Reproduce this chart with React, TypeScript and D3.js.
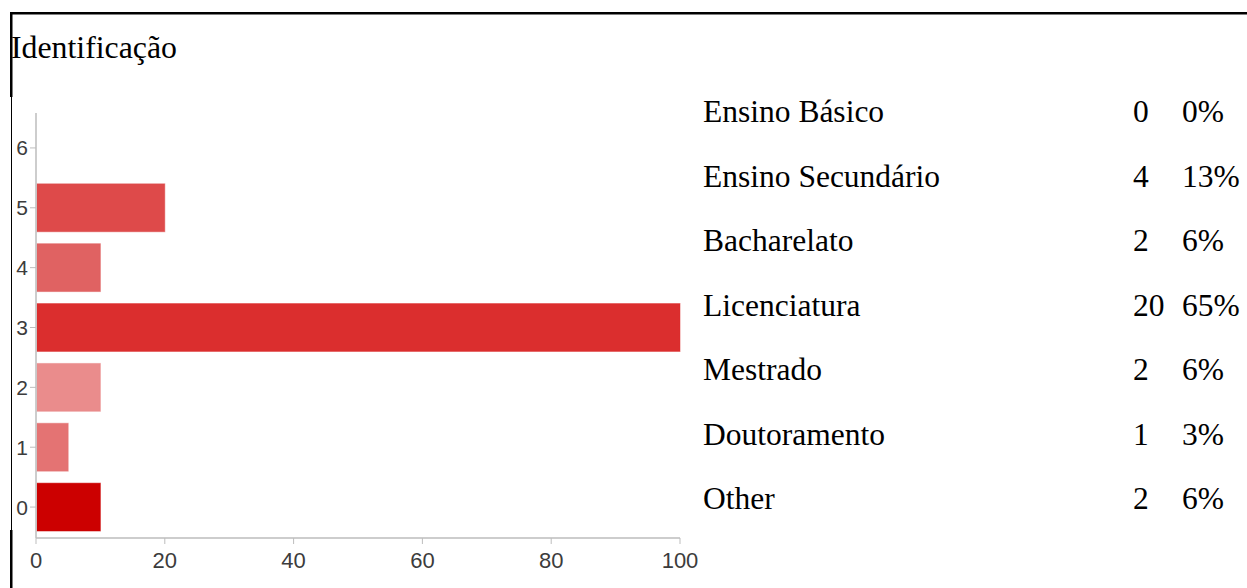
import React from "react";
import * as d3 from "d3";

// Response summary for the "Identificação" question
const categories = [
  "Ensino Básico",
  "Ensino Secundário",
  "Bacharelato",
  "Licenciatura",
  "Mestrado",
  "Doutoramento",
  "Other",
];
const counts = [0, 4, 2, 20, 2, 1, 2];
const barColors = ["#cc0000", "#de4a4a", "#e06262", "#db2e2e", "#ea8c8c", "#e47373", "#cc0000"];
const yTickLabels = ["0", "1", "2", "3", "4", "5", "6"];
const xTickValues = [0, 20, 40, 60, 80, 100];

const W = 1247;
const H = 588;
const SERIF = "'Liberation Serif', 'Times New Roman', Times, serif";
const SANS = "'Liberation Sans', Arial, Helvetica, sans-serif";

export default function App() {
  React.useEffect(() => {
    document.body.style.margin = "0";
  }, []);

  const total = d3.sum(counts);
  const maxCount = d3.max(counts) ?? 1;

  const x = d3.scaleLinear().domain([0, 100]).range([36, 680]);
  const y = d3
    .scaleBand<string>()
    .domain(yTickLabels)
    .range([537, 118])
    .paddingInner(0.2)
    .paddingOuter(0.1);

  // bottom row of the legend is category "0" on the chart
  const bars = categories.map((name, i) => ({
    name,
    key: String(categories.length - 1 - i),
    value: (counts[i] / maxCount) * 100,
    color: barColors[i],
  }));

  const axisColor = "#bdbdbd";
  const rowY = d3.scaleLinear().domain([0, categories.length - 1]).range([122, 509]);

  return (
    <svg
      width={W}
      height={H}
      style={{ position: "absolute", left: 0, top: 0, background: "#fff" }}
    >
      {/* frame */}
      <rect x={10} y={12} width={W - 10} height={2.5} fill="#000" />
      <rect x={10} y={12} width={2.5} height={85} fill="#000" />
      <rect x={11} y={97} width={1} height={433} fill="#000" />
      <rect x={10} y={530} width={2.5} height={H - 530} fill="#000" />

      <text x={11} y={58} fontFamily={SERIF} fontSize={31.8} fill="#000">
        Identificação
      </text>

      {/* bars */}
      {bars.map((b) => (
        <rect
          key={b.name}
          x={x(0) + 1}
          y={y(b.key)!}
          width={Math.max(0, x(b.value) - x(0) - 1)}
          height={y.bandwidth()}
          fill={b.color}
          stroke={b.value > 0 ? b.color : "none"}
          strokeOpacity={0.5}
          strokeWidth={1}
        />
      ))}

      {/* y axis */}
      <line x1={36} x2={36} y1={113} y2={538} stroke={axisColor} strokeWidth={1.5} />
      {yTickLabels.map((t) => {
        const cy = y(t)! + y.bandwidth() / 2;
        return (
          <g key={t}>
            <line x1={30} x2={36} y1={cy} y2={cy} stroke={axisColor} strokeWidth={1} />
            <text
              x={28}
              y={cy}
              dy="0.36em"
              textAnchor="end"
              fontFamily={SANS}
              fontSize={21}
              fill="#3c3c3c"
            >
              {t}
            </text>
          </g>
        );
      })}

      {/* x axis */}
      <line x1={36} x2={680} y1={538} y2={538} stroke={axisColor} strokeWidth={1.5} />
      {xTickValues.map((t) => (
        <g key={t}>
          <line x1={x(t)} x2={x(t)} y1={538} y2={544} stroke={axisColor} strokeWidth={1} />
          <text
            x={x(t)}
            y={568}
            textAnchor="middle"
            fontFamily={SANS}
            fontSize={22}
            fill="#3c3c3c"
          >
            {t}
          </text>
        </g>
      ))}

      {/* legend table */}
      {categories.map((name, i) => (
        <g key={name} fontFamily={SERIF} fontSize={31.5} fill="#000">
          <text x={703} y={rowY(i)}>{name}</text>
          <text x={1133} y={rowY(i)}>{counts[i]}</text>
          <text x={1182} y={rowY(i)}>{Math.round((counts[i] / total) * 100)}%</text>
        </g>
      ))}
    </svg>
  );
}
